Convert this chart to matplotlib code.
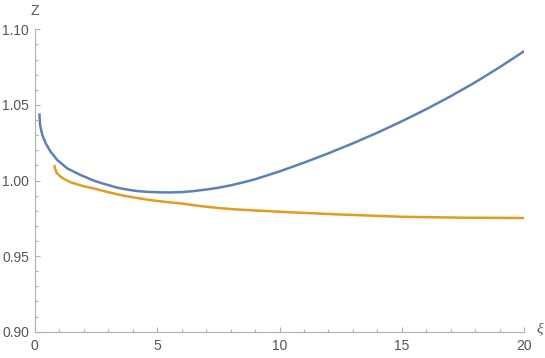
import matplotlib
matplotlib.use('Agg')
import matplotlib.pyplot as plt
from matplotlib.ticker import MultipleLocator

# curve values
xi_blue = [0.19, 0.22, 0.31, 0.45, 0.65, 0.92, 1.33, 1.88, 2.4, 2.7, 3.0, 3.25, 3.5,
           3.85, 4.2, 4.6, 5.1, 5.5, 6.0, 6.5, 7.0, 7.5, 8.0, 8.5, 9.0, 10.0, 11.0,
           12.0, 13.0, 14.0, 15.0, 16.0, 17.0, 18.0, 19.0, 20.0]
z_blue = [1.0444, 1.0367, 1.0301, 1.0246, 1.0190, 1.0136, 1.0080, 1.0036, 1.0000,
          0.9984, 0.9970, 0.9958, 0.9948, 0.9938, 0.9930, 0.9925, 0.9922, 0.9921,
          0.9923, 0.9930, 0.9940, 0.9952, 0.9968, 0.9987, 1.0008, 1.0060, 1.0118,
          1.0180, 1.0246, 1.0316, 1.0392, 1.0472, 1.0558, 1.0650, 1.0750, 1.0856]

xi_orange = [0.80, 0.83, 0.90, 1.06, 1.2, 1.47, 2.0, 2.5, 3.0, 3.5, 4.0, 4.7, 5.3,
             6.0, 6.7, 7.5, 8.3, 9.2, 10.8, 12.5, 15.0, 17.5, 20.0]
z_orange = [1.0103, 1.0080, 1.0050, 1.0025, 1.0010, 0.9988, 0.9962, 0.9944, 0.9923,
            0.9904, 0.9889, 0.9871, 0.9859, 0.9848, 0.9832, 0.9818, 0.9808, 0.9800,
            0.9787, 0.9775, 0.9760, 0.9754, 0.9752]

plt.rcParams['font.family'] = ['Liberation Sans', 'DejaVu Sans']

fig = plt.figure(figsize=(5.45, 3.58), dpi=100)
ax = fig.add_axes([34.7 / 545, 1 - 331.7 / 358, (524.3 - 34.7) / 545, (331.7 - 29.3) / 358])

ax.plot(xi_blue, z_blue, color='#5E81B5', lw=1.8, solid_capstyle='butt', solid_joinstyle='round')
ax.plot(xi_orange, z_orange, color='#E19C24', lw=1.8, solid_capstyle='butt', solid_joinstyle='round')

ax.set_xlim(0, 20)
ax.set_ylim(0.90, 1.10)
ax.xaxis.set_major_locator(MultipleLocator(5))
ax.xaxis.set_minor_locator(MultipleLocator(1))
ax.yaxis.set_major_locator(MultipleLocator(0.05))
ax.yaxis.set_minor_locator(MultipleLocator(0.01))
ax.yaxis.set_major_formatter(matplotlib.ticker.FormatStrFormatter('%.2f'))

for s in ['top', 'right']:
    ax.spines[s].set_visible(False)
for s in ['left', 'bottom']:
    ax.spines[s].set_color('#b0b0b0')
    ax.spines[s].set_linewidth(0.8)

ax.tick_params(which='both', direction='in', color='#b0b0b0', width=0.8,
               labelcolor='#555555', labelsize=10)
ax.tick_params(which='major', length=3.8)
ax.tick_params(which='minor', length=2.5)
ax.tick_params(axis='x', pad=5)
ax.tick_params(axis='y', pad=4)

fig.text(35 / 545, 1 - 11 / 358, 'Z', ha='center', va='center', color='#555555', fontsize=10)
fig.text(540 / 545, 1 - 329 / 358, 'ξ', ha='center', va='center', color='#555555',
         fontsize=11, family='Liberation Serif', style='italic')

fig.savefig('out.png', dpi=100)
